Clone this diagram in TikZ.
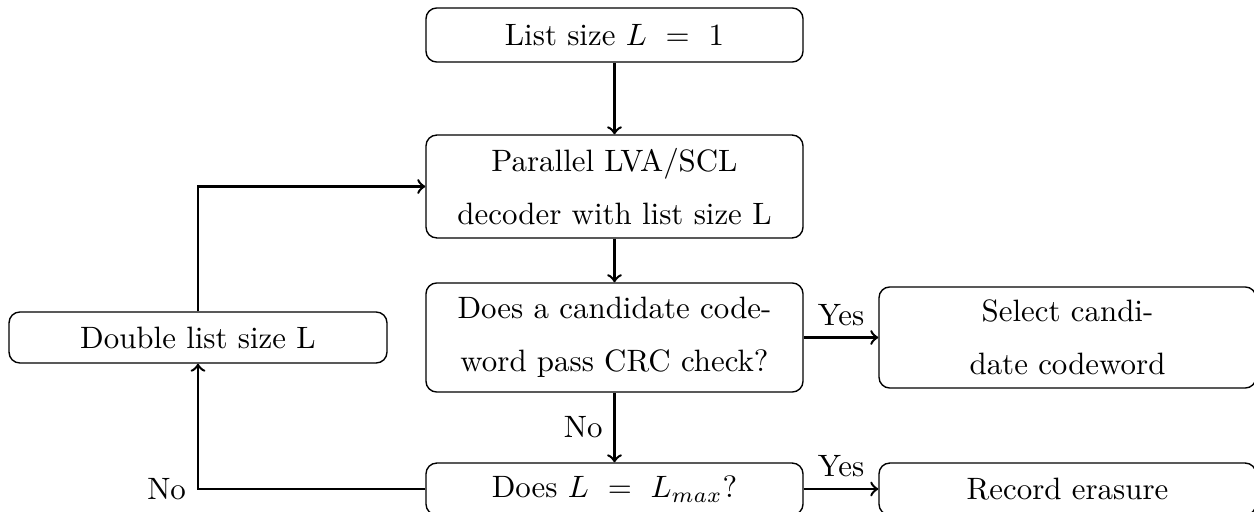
\documentclass[tikz,border=0pt]{standalone}
\begin{document}
\begin{tikzpicture}[x=0.3236pt, y=-0.3236pt,
  box/.style={draw, rounded corners=3.5pt, minimum width=122pt, align=center,
    inner sep=0pt, line width=0.45pt},
  flow/.style={->, thick},
  lbl/.style={inner sep=3.5pt}]
\useasboundingbox (0,0) rectangle (1254,512);

% main column
\node[box, minimum height=17.5pt] (b1) at (614.5,35) {List size $L\ =\ 1$};
\node[box, minimum height=33.3pt] (b2) at (614.5,186.5)
  {Parallel LVA/SCL\\[5pt]decoder with list size L};
\node[box, minimum height=35.3pt] (b3) at (614.5,337.5)
  {Does a candidate code-\\[5pt]word pass CRC check?};
\node[box, minimum height=16.8pt] (b4) at (614.5,489) {Does $L\ =\ L_{max}$?};

% side boxes
\node[box, minimum width=122.3pt, minimum height=16.5pt] (dbl) at (198,337.5)
  {Double list size L};
\node[box, minimum height=32.7pt] (sel) at (1067.5,337.5)
  {Select candi-\\[5pt]date codeword};
\node[box, minimum height=16.8pt] (rec) at (1067.5,489) {Record erasure};

% connectors
\draw[flow] (b1) -- (b2);
\draw[flow] (b2) -- (b3);
\draw[flow] (b3) -- node[lbl, left] {No} (b4);
\draw[flow] (b4.west) -| node[lbl, left, pos=0.5] {No} (dbl.south);
\draw[flow] (dbl.north) |- (b2.west);
\draw[flow] (b3.east) -- node[lbl, above] {Yes} (sel.west);
\draw[flow] (b4.east) -- node[lbl, above] {Yes} (rec.west);
\end{tikzpicture}
\end{document}
